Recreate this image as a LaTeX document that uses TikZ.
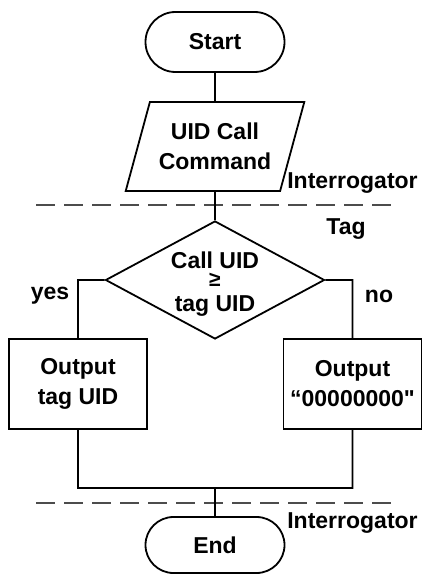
\documentclass[tikz,border=0pt]{standalone}
\usepackage{fontspec}
\setmainfont{Liberation Sans}
\usetikzlibrary{shapes.geometric, shapes.misc, positioning}
\tikzset{
    every node/.style={font=\fontsize{23}{30}\selectfont\bfseries, align=center},
    terminal/.style={draw, rounded rectangle, minimum width=139pt, minimum height=60pt, inner sep=0pt},
    io/.style={draw, trapezium, trapezium left angle=66, trapezium right angle=114,
        trapezium stretches=true, minimum width=179pt, minimum height=89pt, inner sep=0pt},
    decision/.style={draw, diamond, shape aspect=1.86, minimum width=219pt, minimum height=118pt, inner sep=0pt},
    process/.style={draw, rectangle, minimum width=138pt, minimum height=90pt, inner sep=0pt},
    divider/.style={draw=black!70, dash pattern=on 19pt off 9pt},
    side/.style={inner sep=0pt}
}

\begin{document}
\begin{tikzpicture}[x=1pt,y=-1pt,line width=1.8pt]
	\useasboundingbox (0,0) rectangle (421,575);
	\node[terminal] (start) at (215,42) {Start};
	\node[io] (cmd) at (215,146.5) {UID Call\\Command};
	\node[decision] (check) at (215,280) {};
	\node (checktext) at ([yshift=-4pt]check.center) {Call UID\\[-12pt]{\fontsize{21}{21}\selectfont ≥}\\[-5pt]tag UID};
	\node[process] (uid) at (78,384) {Output\\tag UID};
	\node[process] (zero) at (352.5,384) {Output\\“00000000\textquotedbl};
	\node[terminal, minimum height=56pt] (stop) at (215,545) {End};
	\coordinate (join) at (215,488);
	% side labels
	\node[side] (ilabel1) at (352.5,183) {Interrogator};
	\node[side] (tlabel) at (346,229) {Tag};
	\node[side] (yes) at (50,296) {yes};
	\node[side] (no) at (379,296) {no};
	\node[side] (ilabel2) at (352.5,523) {Interrogator};
	% interrogator / tag boundary
	\coordinate (a1) at (36,205);
	\coordinate (a2) at (391,205);
	\coordinate (b1) at (36,503);
	\coordinate (b2) at (391,503);
	\draw[divider] (a1) -- (a2);
	\draw[divider] (b1) -- (b2);
	\draw (start) -- (cmd)
	      (cmd) -- (check)
	      (check.west) -| (uid.north)
	      (check.east) -| (zero.north)
	      (uid.south) |- (join) -| (zero.south)
	      (join) -- (stop);
\end{tikzpicture}
\end{document}
